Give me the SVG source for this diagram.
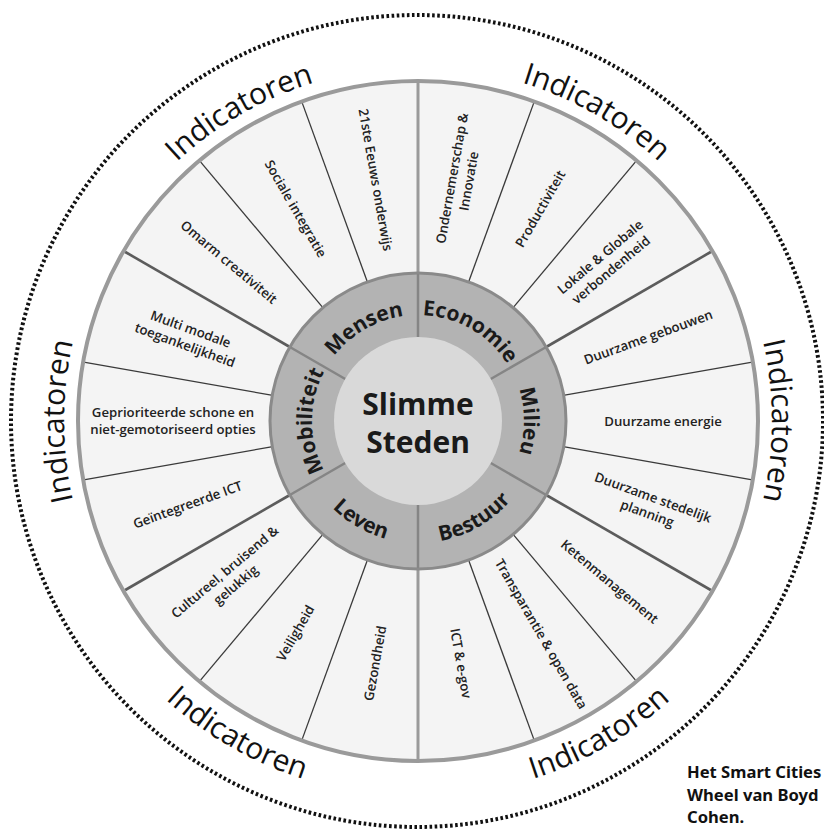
<svg xmlns="http://www.w3.org/2000/svg" width="824" height="833" viewBox="0 0 824 833">
<style>
  .outer { fill:#f4f4f4; stroke:#9a9a9a; stroke-width:4 }
  .catring { fill:#b3b3b3; stroke:#8a8a8a; stroke-width:3 }
  .core { fill:#d9d9d9 }
  .thin { stroke:#3a3a3a; stroke-width:1.3 }
  .thick { stroke:#5c5c5c; stroke-width:2.6 }
  .vert { stroke:#9a9a9a; stroke-width:3 }
  .idiv { stroke:#858585; stroke-width:2.5 }
  .dots { fill:none; stroke:#111; stroke-width:4; stroke-dasharray:2.6 2.5 }
  .sub { font-family:"Open Sans","Liberation Sans",sans-serif; font-weight:600; font-size:13.2px; fill:#222; text-anchor:middle }
  .cat { font-family:"Open Sans","Liberation Sans",sans-serif; font-weight:700; font-size:21px; fill:#1a1a1a }
  .ind { font-family:"Open Sans","Liberation Sans",sans-serif; font-weight:400; font-size:30px; fill:#111 }
  .title { font-family:"Open Sans","Liberation Sans",sans-serif; font-weight:700; font-size:30px; fill:#1a1a1a; text-anchor:middle }
  .caption { font-family:"Noto Sans","Liberation Sans",sans-serif; font-weight:700; font-size:16.6px; fill:#111 }
</style>
<defs>
  <path id="cw106" d="M -104.39 -18.41 A 106 106 0 0 1 104.39 -18.41"/>
  <path id="ccw122" d="M -120.15 21.19 A 122 122 0 0 0 120.15 21.19"/>
  <path id="cw354" d="M -227.55 -271.18 A 354 354 0 0 1 227.55 -271.18"/>
  <path id="ccw376" d="M -241.69 288.03 A 376 376 0 0 0 241.69 288.03"/>
</defs>

<circle class="dots" cx="417" cy="421" r="406"/>

<g transform="translate(418,421)">
  <circle class="outer" r="340"/>

  <g id="connectors">
    <line class="thin" x1="0" y1="-149" x2="0" y2="-338" transform="rotate(20)"/>
    <line class="thin" x1="0" y1="-149" x2="0" y2="-338" transform="rotate(40)"/>
    <line class="thin" x1="0" y1="-149" x2="0" y2="-338" transform="rotate(80)"/>
    <line class="thin" x1="0" y1="-149" x2="0" y2="-338" transform="rotate(100)"/>
    <line class="thin" x1="0" y1="-149" x2="0" y2="-338" transform="rotate(140)"/>
    <line class="thin" x1="0" y1="-149" x2="0" y2="-338" transform="rotate(160)"/>
    <line class="thin" x1="0" y1="-149" x2="0" y2="-338" transform="rotate(200)"/>
    <line class="thin" x1="0" y1="-149" x2="0" y2="-338" transform="rotate(220)"/>
    <line class="thin" x1="0" y1="-149" x2="0" y2="-338" transform="rotate(260)"/>
    <line class="thin" x1="0" y1="-149" x2="0" y2="-338" transform="rotate(280)"/>
    <line class="thin" x1="0" y1="-149" x2="0" y2="-338" transform="rotate(320)"/>
    <line class="thin" x1="0" y1="-149" x2="0" y2="-338" transform="rotate(340)"/>
    <line class="vert" x1="0" y1="-149" x2="0" y2="-338"/>
    <line class="vert" x1="0" y1="149" x2="0" y2="338"/>
    <line class="thick" x1="0" y1="-149" x2="0" y2="-338" transform="rotate(60)"/>
    <line class="thick" x1="0" y1="-149" x2="0" y2="-338" transform="rotate(120)"/>
    <line class="thick" x1="0" y1="-149" x2="0" y2="-338" transform="rotate(240)"/>
    <line class="thick" x1="0" y1="-149" x2="0" y2="-338" transform="rotate(300)"/>
  </g>

  <circle class="catring" r="148"/>
  <g id="ring-dividers">
    <line class="idiv" x1="0" y1="-84" x2="0" y2="-147"/>
    <line class="idiv" x1="0" y1="-84" x2="0" y2="-147" transform="rotate(60)"/>
    <line class="idiv" x1="0" y1="-84" x2="0" y2="-147" transform="rotate(120)"/>
    <line class="idiv" x1="0" y1="-84" x2="0" y2="-147" transform="rotate(180)"/>
    <line class="idiv" x1="0" y1="-84" x2="0" y2="-147" transform="rotate(240)"/>
    <line class="idiv" x1="0" y1="-84" x2="0" y2="-147" transform="rotate(300)"/>
  </g>
  <circle class="core" r="84"/>

  <g id="center">
    <text class="title" x="0" y="-6">Slimme</text>
    <text class="title" x="0" y="32">Steden</text>
  </g>

  <g id="mensen">
    <text class="cat" transform="rotate(-30)"><textPath href="#cw106" startOffset="50%" text-anchor="middle">Mensen</textPath></text>
    <g transform="rotate(350) translate(0,-245) rotate(90)"><text class="sub" y="4.5">21ste Eeuws onderwijs</text></g>
    <g transform="rotate(330) translate(0,-245) rotate(90)"><text class="sub" y="4.5">Sociale integratie</text></g>
    <g transform="rotate(310) translate(0,-247) rotate(90)"><text class="sub" y="4.5">Omarm creativiteit</text></g>
  </g>

  <g id="economie">
    <text class="cat" transform="rotate(30)"><textPath href="#cw106" startOffset="50%" text-anchor="middle">Economie</textPath></text>
    <g transform="rotate(10) translate(0,-245) rotate(-90)"><text class="sub" y="-4">Ondernemerschap &amp;</text><text class="sub" y="13">Innovatie</text></g>
    <g transform="rotate(30) translate(0,-245) rotate(-90)"><text class="sub" y="4.5">Productiviteit</text></g>
    <g transform="rotate(50) translate(0,-245) rotate(-90)"><text class="sub" y="-4">Lokale &amp; Globale</text><text class="sub" y="13">verbondenheid</text></g>
  </g>

  <g id="milieu">
    <text class="cat" transform="rotate(90)"><textPath href="#cw106" startOffset="50%" text-anchor="middle">Milieu</textPath></text>
    <g transform="rotate(70) translate(0,-245) rotate(-90)"><text class="sub" y="4.5">Duurzame gebouwen</text></g>
    <g transform="rotate(90) translate(0,-245) rotate(-90)"><text class="sub" y="4.5">Duurzame energie</text></g>
    <g transform="rotate(110) translate(0,-247) rotate(-90)"><text class="sub" y="-4">Duurzame stedelijk</text><text class="sub" y="13">planning</text></g>
  </g>

  <g id="bestuur">
    <text class="cat" transform="rotate(-30)"><textPath href="#ccw122" startOffset="50%" text-anchor="middle">Bestuur</textPath></text>
    <g transform="rotate(130) translate(0,-250) rotate(-90)"><text class="sub" y="4.5">Ketenmanagement</text></g>
    <g transform="rotate(150) translate(0,-246) rotate(-90)"><text class="sub" y="4.5">Transparantie &amp; open data</text></g>
    <g transform="rotate(170) translate(0,-246) rotate(-90)"><text class="sub" y="4.5">ICT &amp; e-gov</text></g>
  </g>

  <g id="leven">
    <text class="cat" transform="rotate(30)"><textPath href="#ccw122" startOffset="50%" text-anchor="middle">Leven</textPath></text>
    <g transform="rotate(190) translate(0,-246) rotate(90)"><text class="sub" y="4.5">Gezondheid</text></g>
    <g transform="rotate(210) translate(0,-245) rotate(90)"><text class="sub" y="4.5">Veiligheid</text></g>
    <g transform="rotate(230) translate(0,-245) rotate(90)"><text class="sub" y="-4">Cultureel, bruisend &amp;</text><text class="sub" y="13">gelukkig</text></g>
  </g>

  <g id="mobiliteit">
    <text class="cat" transform="rotate(-90)"><textPath href="#cw106" startOffset="50%" text-anchor="middle">Mobiliteit</textPath></text>
    <g transform="rotate(250) translate(0,-245) rotate(90)"><text class="sub" y="4.5">Geïntegreerde ICT</text></g>
    <g transform="rotate(270) translate(0,-245) rotate(90)"><text class="sub" y="-4">Geprioriteerde schone en</text><text class="sub" y="13">niet-gemotoriseerd opties</text></g>
    <g transform="rotate(290) translate(0,-245) rotate(90)"><text class="sub" y="-4">Multi modale</text><text class="sub" y="13">toegankelijkheid</text></g>
  </g>

  <g id="indicatoren">
    <text class="ind" transform="rotate(-30)"><textPath href="#cw354" startOffset="50%" text-anchor="middle">Indicatoren</textPath></text>
    <text class="ind" transform="rotate(30)"><textPath href="#cw354" startOffset="50%" text-anchor="middle">Indicatoren</textPath></text>
    <text class="ind" transform="rotate(90)"><textPath href="#cw354" startOffset="50%" text-anchor="middle">Indicatoren</textPath></text>
    <text class="ind" transform="rotate(-90)"><textPath href="#cw354" startOffset="50%" text-anchor="middle">Indicatoren</textPath></text>
    <text class="ind" transform="rotate(-30)"><textPath href="#ccw376" startOffset="50%" text-anchor="middle">Indicatoren</textPath></text>
    <text class="ind" transform="rotate(30)"><textPath href="#ccw376" startOffset="50%" text-anchor="middle">Indicatoren</textPath></text>
  </g>
</g>

<g id="caption">
  <text class="caption" x="687" y="778">Het Smart Cities</text>
  <text class="caption" x="687" y="801">Wheel van Boyd</text>
  <text class="caption" x="687" y="823">Cohen.</text>
</g>
</svg>
